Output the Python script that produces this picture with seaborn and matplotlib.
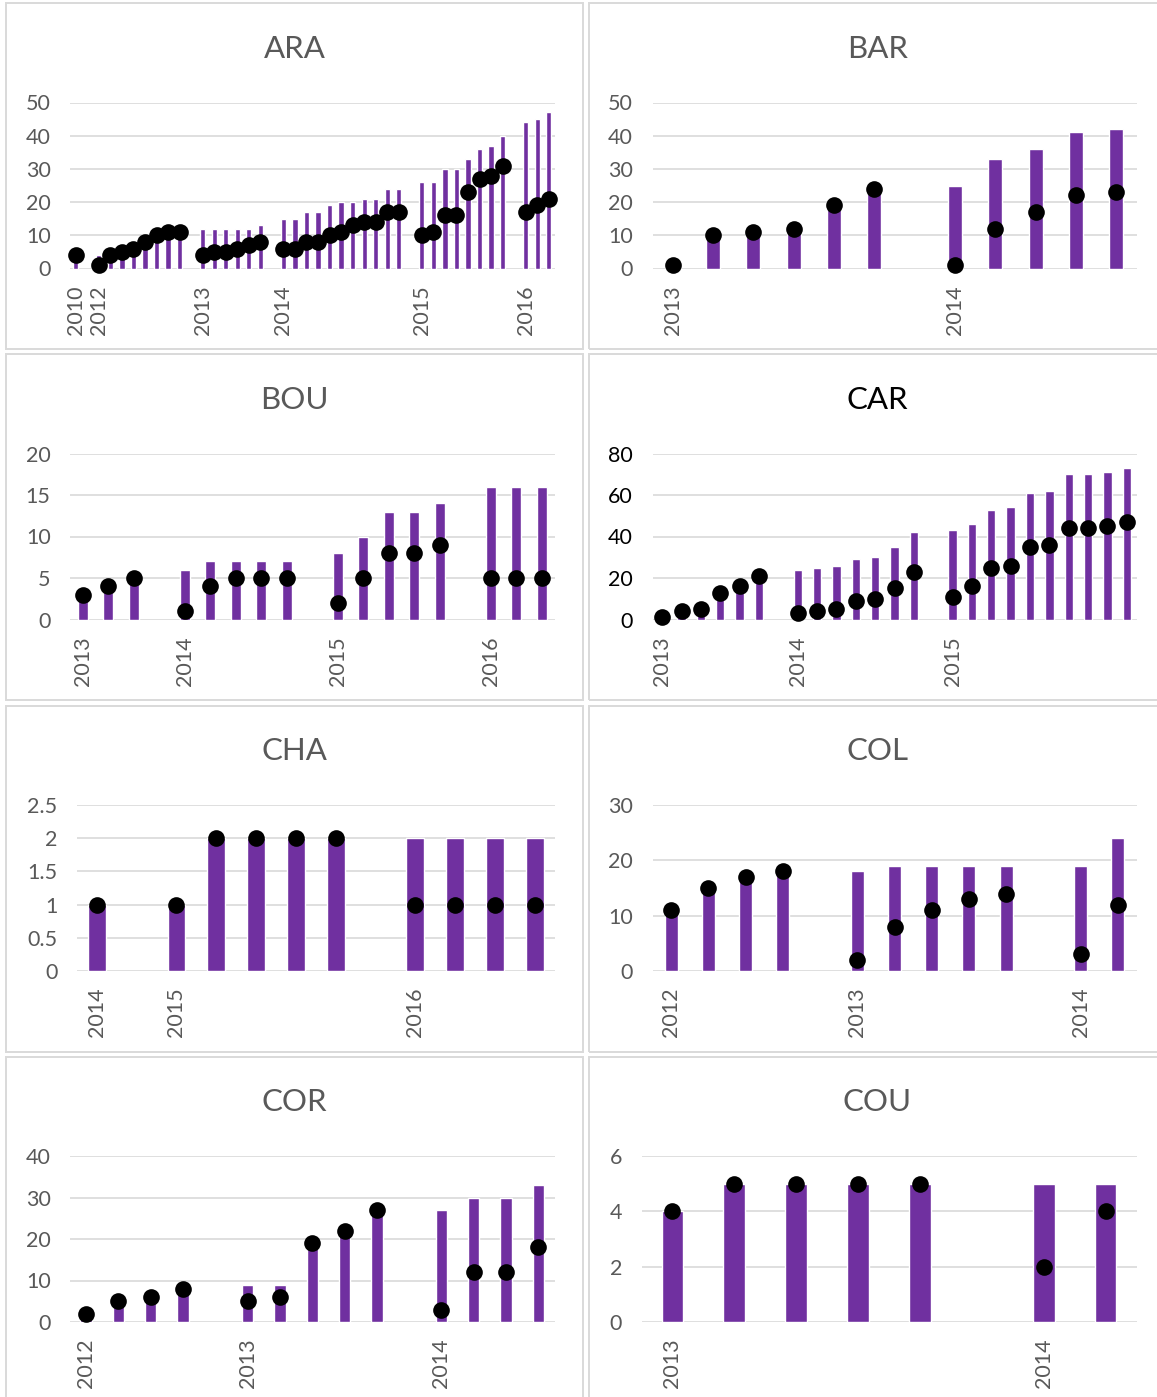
import numpy as np
import pandas as pd
import matplotlib
matplotlib.use("Agg")
import matplotlib.pyplot as plt
from matplotlib.patches import Rectangle
import seaborn as sns

sns.set_theme(style="white")
plt.rcParams["font.family"] = ["Lato", "DejaVu Sans"]

# ---- data: one slot per period, None marks an empty separator slot ----
ARA_years = {0: "2010", 2: "2012", 11: "2013", 18: "2014", 30: "2015", 39: "2016"}
ARA_bars = [4, None, 4, 6, 6, 6, 8, 10, 11, 11, None, 12, 12, 12, 12, 12, 13, None,
            15, 15, 17, 17, 19, 20, 20, 21, 21, 24, 24, None,
            26, 26, 30, 30, 33, 36, 37, 40, None, 44, 45, 47]
ARA_dots = [4, None, 1, 4, 5, 6, 8, 10, 11, 11, None, 4, 5, 5, 6, 7, 8, None,
            6, 6, 8, 8, 10, 11, 13, 14, 14, 17, 17, None,
            10, 11, 16, 16, 23, 27, 28, 31, None, 17, 19, 21]

BAR_years = {0: "2013", 7: "2014"}
BAR_bars = [1, 10, 11, 12, 19, 24, None, 25, 33, 36, 41, 42]
BAR_dots = [1, 10, 11, 12, 19, 24, None, 1, 12, 17, 22, 23]

BOU_years = {0: "2013", 4: "2014", 10: "2015", 16: "2016"}
BOU_bars = [3, 4, 5, None, 6, 7, 7, 7, 7, None, 8, 10, 13, 13, 14, None, 16, 16, 16]
BOU_dots = [3, 4, 5, None, 1, 4, 5, 5, 5, None, 2, 5, 8, 8, 9, None, 5, 5, 5]

CAR_years = {0: "2013", 7: "2014", 15: "2015"}
CAR_bars = [1, 4, 5, 13, 16, 21, None, 24, 25, 26, 29, 30, 35, 42, None,
            43, 46, 53, 54, 61, 62, 70, 70, 71, 73]
CAR_dots = [1, 4, 5, 13, 16, 21, None, 3, 4, 5, 9, 10, 15, 23, None,
            11, 16, 25, 26, 35, 36, 44, 44, 45, 47]

CHA_years = {0: "2014", 2: "2015", 8: "2016"}
CHA_bars = [1, None, 1, 2, 2, 2, 2, None, 2, 2, 2, 2]
CHA_dots = [1, None, 1, 2, 2, 2, 2, None, 1, 1, 1, 1]

COL_years = {0: "2012", 5: "2013", 11: "2014"}
COL_bars = [11, 15, 17, 18, None, 18, 19, 19, 19, 19, None, 19, 24]
COL_dots = [11, 15, 17, 18, None, 2, 8, 11, 13, 14, None, 3, 12]

COR_years = {0: "2012", 5: "2013", 11: "2014"}
COR_bars = [2, 5, 6, 8, None, 9, 9, 19, 22, 27, None, 27, 30, 30, 33]
COR_dots = [2, 5, 6, 8, None, 5, 6, 19, 22, 27, None, 3, 12, 12, 18]

COU_years = {0: "2013", 6: "2014"}
COU_bars = [4, 5, 5, 5, 5, None, 5, 5]
COU_dots = [4, 5, 5, 5, 5, None, 2, 4]

Y_TICKS = {
    "ARA": [0, 10, 20, 30, 40, 50],
    "BAR": [0, 10, 20, 30, 40, 50],
    "BOU": [0, 5, 10, 15, 20],
    "CAR": [0, 20, 40, 60, 80],
    "CHA": [0, 0.5, 1, 1.5, 2, 2.5],
    "COL": [0, 10, 20, 30],
    "COR": [0, 10, 20, 30, 40],
    "COU": [0, 2, 4, 6],
}

PURPLE = "#7030A0"
GRID = "#D9D9D9"
TEXT = "#595959"

W, H = 1157, 1397
fig = plt.figure(figsize=(W / 100, H / 100), dpi=100)

# panel layout in pixels
COLS = {0: (6, 583, 554.5), 1: (589, 1166, 1136.5)}
ROW_TOPS = [3.5, 354.5, 706, 1057]
PANEL_H = 345.5

panels = [
    ("ARA", 0, 0, 70, 0.45, TEXT, ARA_years, ARA_bars, ARA_dots),
    ("BAR", 1, 0, 652.5, 0.35, TEXT, BAR_years, BAR_bars, BAR_dots),
    ("BOU", 0, 1, 70, 0.38, TEXT, BOU_years, BOU_bars, BOU_dots),
    ("CAR", 1, 1, 652.5, 0.43, "#000000", CAR_years, CAR_bars, CAR_dots),
    ("CHA", 0, 2, 77, 0.45, TEXT, CHA_years, CHA_bars, CHA_dots),
    ("COL", 1, 2, 652.5, 0.35, TEXT, COL_years, COL_bars, COL_dots),
    ("COR", 0, 3, 70, 0.35, TEXT, COR_years, COR_bars, COR_dots),
    ("COU", 1, 3, 641.5, 0.35, TEXT, COU_years, COU_bars, COU_dots),
]


def fx(px):
    return px / W


def fy(py):
    return 1 - py / H


for name, col, row, plot_left, bw, ycol, years, bars, dots in panels:
    px0, px1, plot_right = COLS[col]
    top = ROW_TOPS[row]

    # panel frame and title
    fig.patches.append(Rectangle((fx(px0), fy(top + PANEL_H)), fx(px1 - px0), PANEL_H / H,
                                 transform=fig.transFigure, fill=False,
                                 edgecolor=GRID, linewidth=1.4, zorder=0))
    fig.text(fx((px0 + px1) / 2), fy(top + 45), name, ha="center", va="center",
             fontsize=22.5, color=ycol)

    ax_top, ax_bot = top + 99, top + 265
    ax = fig.add_axes([fx(plot_left), fy(ax_bot), fx(plot_right - plot_left),
                       (ax_bot - ax_top) / H])

    n = len(bars)
    df = pd.DataFrame({
        "slot": np.arange(n),
        "total": np.array([np.nan if v is None else v for v in bars], float),
        "count": np.array([np.nan if v is None else v for v in dots], float),
    })
    order = list(range(n))
    sns.barplot(data=df.dropna(subset=["total"]), x="slot", y="total", order=order,
                color=PURPLE, saturation=1, width=bw, errorbar=None, ax=ax, zorder=2)
    sns.stripplot(data=df.dropna(subset=["count"]), x="slot", y="count", order=order,
                  color="black", size=12, jitter=False, linewidth=0, ax=ax, zorder=3)

    yt = Y_TICKS[name]
    ax.set_ylim(0, yt[-1])
    ax.set_yticks(yt)
    ax.set_yticklabels([f"{t:g}" for t in yt], color=ycol, fontsize=15.5)
    ax.set_xlim(-0.5, n - 0.5)
    ax.set_xticks(range(n))
    ax.set_xticklabels([years.get(i, "") for i in range(n)], rotation=90,
                       color=TEXT, fontsize=15.5)
    ax.tick_params(axis="x", length=0, pad=12)
    ax.tick_params(axis="y", length=0, pad=14)
    ax.set_xlabel("")
    ax.set_ylabel("")
    for s in ax.spines.values():
        s.set_visible(False)
    ax.grid(False)
    for t in yt:
        ax.axhline(t, color=GRID, linewidth=1.2, zorder=1)
    ax.set_facecolor("none")
    for c in ax.collections:
        c.set_clip_on(False)

fig.savefig("out.png", dpi=100, facecolor="white")
